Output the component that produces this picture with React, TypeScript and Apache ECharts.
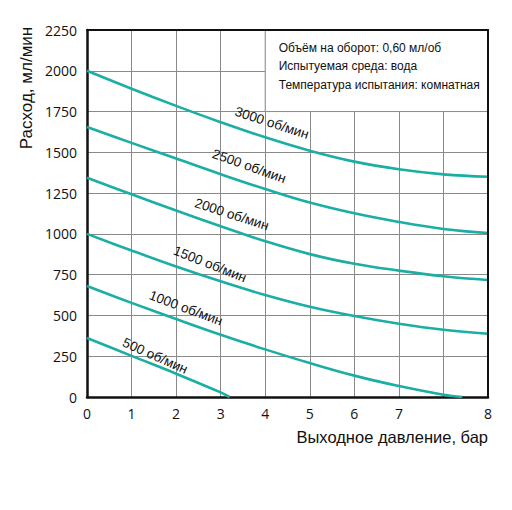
import React, { useEffect, useRef } from "react";
import * as echarts from "echarts";

// Axis units: grid columns 0..9 (the last column edge is labelled "8" in the original)
const xTickLabels = ["0", "1", "2", "3", "4", "5", "6", "7", "", "8"];
const yMax = 2250;
const yStep = 250;

const speedNames = ["3000 об/мин", "2500 об/мин", "2000 об/мин", "1500 об/мин", "1000 об/мин", "500 об/мин"];

const pressureFull = [0, 1, 2, 3, 4, 5, 6, 7, 8, 9];
const flow3000 = [2000, 1890, 1785, 1685, 1592, 1510, 1443, 1396, 1365, 1350];
const flow2500 = [1655, 1558, 1462, 1366, 1275, 1192, 1126, 1073, 1030, 1005];
const flow2000 = [1344, 1243, 1143, 1047, 955, 876, 817, 775, 740, 717];
const flow1500 = [1000, 898, 800, 709, 625, 553, 496, 449, 412, 388];
const pressure1000 = [0, 1, 2, 3, 4, 5, 6, 7, 8, 8.42];
const flow1000 = [680, 577, 478, 382, 292, 208, 131, 67, 14, 0];
const pressure500 = [0, 1, 2, 3, 3.2];
const flow500 = [362, 252, 143, 28, 0];

// label anchor (pressure, flow) and rotation for each curve's name
const labelPressure = [4.15, 3.64, 3.25, 2.76, 2.22, 1.53];
const labelFlow = [1680, 1415, 1120, 815, 545, 252];
const labelRotate = [-18, -19.5, -18, -21.5, -20.5, -24];

const infoLines = [
  "Объём на оборот: 0,60 мл/об",
  "Испытуемая среда: вода",
  "Температура испытания: комнатная",
];
const infoBox = [[4, 1750], [9, 2250]];

const xTitle = "Выходное давление, бар";
const yTitle = "Расход, мл/мин";

const curveXs = [pressureFull, pressureFull, pressureFull, pressureFull, pressure1000, pressure500];
const curveYs = [flow3000, flow2500, flow2000, flow1500, flow1000, flow500];

const TEAL = "#1aaea5";
const GRID = "#8a8a8a";
const ARIAL = "Liberation Sans, Arial, sans-serif";
const TICKFONT = "Open Sans, Noto Sans, sans-serif";

export default function App() {
  const ref = useRef<HTMLDivElement>(null);
  useEffect(() => {
    if (!ref.current) return;
    const chart = echarts.init(ref.current, null, { renderer: "svg" });

    const series: any[] = curveXs.map((xs, i) => {
      const s: any = {
        type: "line",
        name: speedNames[i],
        data: xs.map((x, j) => [x, curveYs[i][j]]),
        smooth: 0.4,
        showSymbol: false,
        symbol: "none",
        lineStyle: { color: TEAL, width: 2.6 },
        itemStyle: { color: TEAL },
        z: 3,
        markPoint: {
          symbol: "circle",
          symbolSize: 0,
          silent: true,
          label: {
            show: true,
            position: "inside",
            formatter: "{b}",
            rotate: labelRotate[i],
            color: "#111",
            fontFamily: ARIAL,
            fontSize: 13.5,
            align: "center",
            verticalAlign: "middle",
          },
          data: [{ name: speedNames[i], coord: [labelPressure[i], labelFlow[i]] }],
        },
      };
      if (i === 0) {
        s.markArea = {
          silent: true,
          itemStyle: { color: "#ffffff", borderColor: GRID, borderWidth: 1 },
          label: {
            show: true,
            position: "insideTopLeft",
            distance: 0,
            padding: [9, 0, 0, 14],
            formatter: infoLines.join("\n"),
            color: "#111",
            fontFamily: ARIAL,
            fontSize: 12,
            lineHeight: 18.5,
          },
          data: [[{ coord: infoBox[0] }, { coord: infoBox[1] }]],
        };
      }
      return s;
    });

    chart.setOption({
      animation: false,
      backgroundColor: "#ffffff",
      grid: { left: 87, right: 24, top: 30, bottom: 113, show: false },
      xAxis: [
        {
          type: "value",
          min: 0,
          max: 9,
          interval: 1,
          axisLine: { show: true, onZero: false, lineStyle: { color: "#111", width: 2.5 } },
          axisTick: { show: false },
          splitLine: { show: true, lineStyle: { color: GRID, width: 1 } },
          axisLabel: {
            color: "#111",
            fontFamily: TICKFONT,
            fontSize: 14,
            margin: 9,
            formatter: (v: number) => xTickLabels[Math.round(v)] ?? "",
          },
          name: xTitle,
          nameLocation: "end",
          nameGap: 0,
          nameTextStyle: {
            color: "#111",
            fontFamily: ARIAL,
            fontSize: 16.5,
            align: "right",
            verticalAlign: "top",
            padding: [31, 0, 0, 0],
          },
        },
        {
          type: "value",
          position: "top",
          min: 0,
          max: 9,
          z: 5,
          axisLine: { show: true, onZero: false, lineStyle: { color: "#111", width: 2 } },
          axisTick: { show: false },
          axisLabel: { show: false },
          splitLine: { show: false },
        },
      ],
      yAxis: [
        {
          type: "value",
          min: 0,
          max: yMax,
          interval: yStep,
          axisLine: { show: true, onZero: false, lineStyle: { color: "#111", width: 2.5 } },
          axisTick: { show: false },
          splitLine: { show: true, lineStyle: { color: GRID, width: 1 } },
          axisLabel: {
            color: "#111",
            fontFamily: TICKFONT,
            fontSize: 14,
            margin: 10,
            formatter: (v: number) => String(v),
          },
        },
        {
          type: "value",
          position: "right",
          min: 0,
          max: yMax,
          z: 5,
          axisLine: { show: true, onZero: false, lineStyle: { color: "#111", width: 2 } },
          axisTick: { show: false },
          axisLabel: { show: false },
          splitLine: { show: false },
        },
      ],
      graphic: [
        {
          type: "text",
          x: 26,
          y: 88,
          rotation: Math.PI / 2,
          style: {
            text: yTitle,
            fill: "#111",
            fontFamily: ARIAL,
            fontSize: 17,
            align: "center",
            verticalAlign: "middle",
          },
        },
      ],
      series,
    });
    return () => chart.dispose();
  }, []);
  return (
    <div
      ref={ref}
      style={{ position: "absolute", left: 0, top: 0, width: 512, height: 510 }}
    />
  );
}
